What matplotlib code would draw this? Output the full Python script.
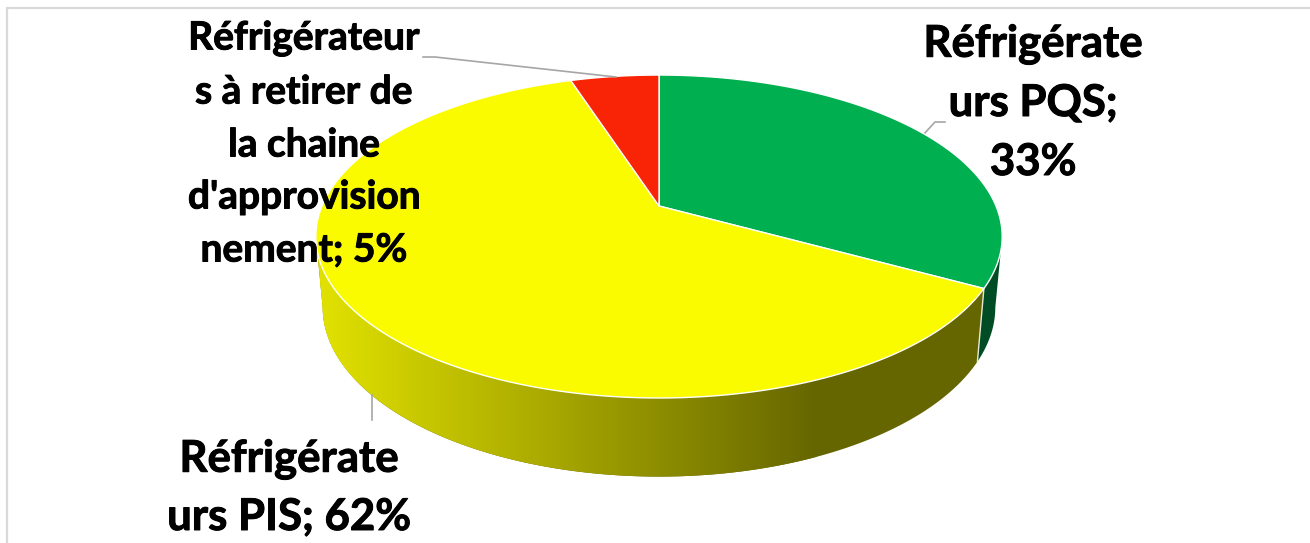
"""
pie chart of fridge types, drawn as a tilted 3d disc with a perspective top face
"""

import numpy as np
import matplotlib
matplotlib.use("Agg")
import matplotlib.pyplot as plt
import matplotlib.patheffects as pe
from matplotlib.colors import LinearSegmentedColormap
from matplotlib.patches import PathPatch, Polygon
from matplotlib.path import Path

categories = ["Réfrigérateurs PQS", "Réfrigérateurs PIS", "Réfrigérateurs à retirer de la chaine d'approvisionnement"]
shares = [33, 62, 5]
label_lines = [
    ["Réfrigérate", "urs PQS;", "33%"],
    ["Réfrigérate", "urs PIS; 62%"],
    ["Réfrigérateur", "s à retirer de", "la chaine", "d'approvision", "nement; 5%"],
]

top_colors = ["#00B050", "#FBFB00", "#F92306"]
side_green = "#004D25"

plt.rcParams["font.family"] = ["Lato", "DejaVu Sans"]

# pie geometry, in image pixels
APEX_X, APEX_Y = 659, 206
RX, RY, PERSP = 337, 155.7, 0.189
SIDE_Y = 275
SIDE_SX, SIDE_SY = 0.98, 1.05


def rim(theta, y0=APEX_Y, sx=1.0, sy=1.0):
    # theta in degrees, clockwise from the top
    t = np.radians(theta)
    w = 1 + PERSP * np.cos(t)
    x = APEX_X + sx * RX * np.sin(t) / w
    y = y0 - sy * RY * np.cos(t) / w
    return np.column_stack([x, y])


def side_polygon(start, end):
    th = np.linspace(start, end, 200)
    upper = rim(th)
    lower = rim(th, SIDE_Y, SIDE_SX, SIDE_SY)
    return np.vstack([upper, lower[::-1]])


fig = plt.figure(figsize=(13.10, 5.43), dpi=100)
ax = fig.add_axes([0, 0, 1, 1])
ax.set_xlim(0, 1310)
ax.set_ylim(543, 0)
ax.axis("off")

# only the left and top of the chart frame are in the picture
ax.plot([7, 7, 1310], [543, 8, 8], color="#D9D9D9", lw=1.6, zorder=1, solid_joinstyle="miter")

edges = np.cumsum([0] + shares) / sum(shares) * 360

# side walls, out to where the rim is widest on each side
ax.add_patch(Polygon(side_polygon(101, edges[1]), closed=True, fc=side_green, ec="none", zorder=2))

shade = LinearSegmentedColormap.from_list("shade", [(225 / 255, 225 / 255, 0), (102 / 255, 102 / 255, 0)])
grad = ax.imshow(np.linspace(0, 1, 256).reshape(1, -1), extent=[320, 817, 543, 0], cmap=shade,
                 aspect="auto", zorder=2.1)
ax.set_xlim(0, 1310)
ax.set_ylim(543, 0)
wall = side_polygon(edges[1], 259)
# the gradient starts at x=320, the base colour fills what is left on both ends
ax.add_patch(Polygon(wall, closed=True, fc=(102 / 255, 102 / 255, 0), ec="none", zorder=2))
left_part = side_polygon(235, 259)
ax.add_patch(Polygon(left_part, closed=True, fc=(225 / 255, 225 / 255, 0), ec="none", zorder=2))
grad.set_clip_path(PathPatch(Path(wall, closed=False), transform=ax.transData))

# seam between the two walls
seam = np.vstack([rim(edges[1]), rim(edges[1], SIDE_Y, SIDE_SX, SIDE_SY)])
ax.plot(seam[:, 0], seam[:, 1], color="#E8E8D8", lw=1, zorder=2.2)

# top face
for i in range(len(shares)):
    arc = rim(np.linspace(edges[i], edges[i + 1], 200))
    pts = np.vstack([[APEX_X, APEX_Y], arc])
    ax.add_patch(Polygon(pts, closed=True, fc=top_colors[i], ec="white", lw=1, zorder=3))

# leader lines
ax.plot([945, 935, 924], [122, 122, 134], color="#A6A6A6", lw=1.2, zorder=2)
ax.plot([372, 372], [395, 420], color="#A6A6A6", lw=1.2, zorder=4)
ax.plot([423, 435, 616], [57, 57, 77], color="#A6A6A6", lw=1.2, zorder=4)

# labels, line by line since the line pitch differs per label
label_pos = [(1033, [44, 103, 162]), (289, [459, 517]), (304, [38, 92, 145, 197, 250])]
label_size = [31.5, 31.5, 28]
bolder = [pe.withStroke(linewidth=0.7, foreground="black")]
for lines, (x, ys), size in zip(label_lines, label_pos, label_size):
    for line, y in zip(lines, ys):
        ax.text(x, y, line, ha="center", va="center", fontsize=size, fontweight="bold", color="black",
                zorder=5, path_effects=bolder)

fig.savefig("out.png", dpi=100, facecolor="white")
